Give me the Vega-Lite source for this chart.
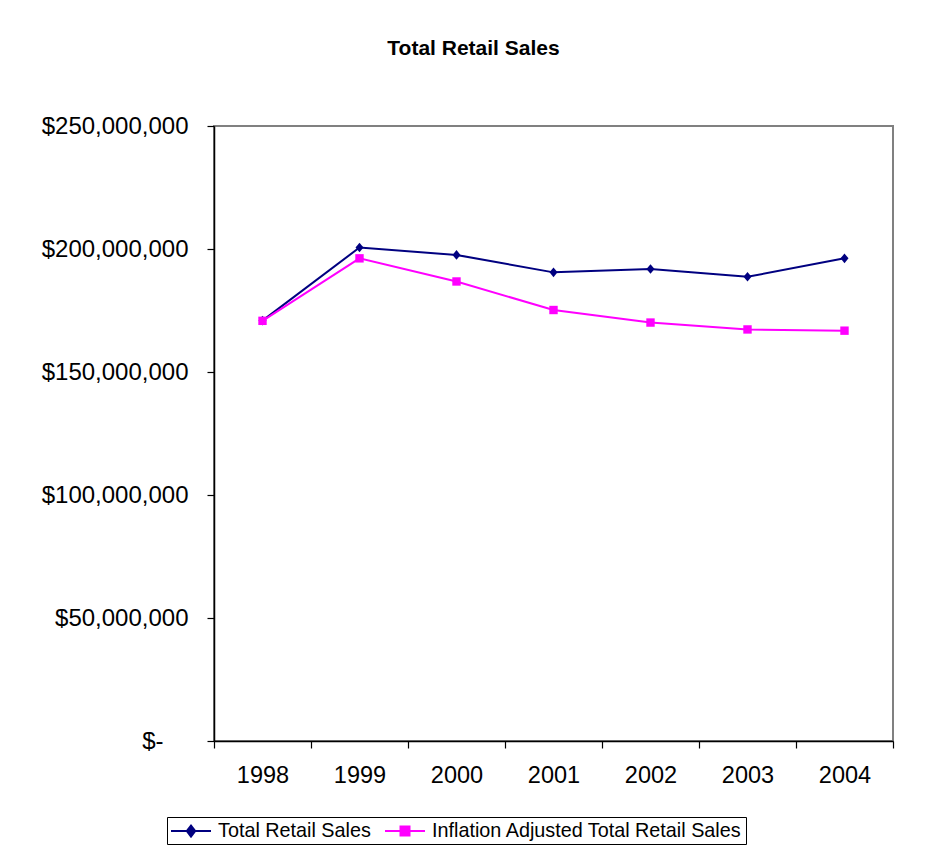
{
  "$schema": "https://vega.github.io/schema/vega-lite/v6.json",
  "autosize": {"type": "none"},
  "padding": {"left": 214, "top": 126, "right": 41, "bottom": 109},
  "width": 679,
  "height": 615,
  "background": "white",
  "title": {
    "text": "Total Retail Sales",
    "font": "Liberation Sans",
    "fontSize": 21,
    "fontWeight": "bold",
    "color": "black",
    "anchor": "middle",
    "dx": -80,
    "offset": 55
  },
  "data": {
    "values": [
      {"year": "1998", "series": "Total Retail Sales", "value": 170900000},
      {"year": "1999", "series": "Total Retail Sales", "value": 200600000},
      {"year": "2000", "series": "Total Retail Sales", "value": 197600000},
      {"year": "2001", "series": "Total Retail Sales", "value": 190500000},
      {"year": "2002", "series": "Total Retail Sales", "value": 191900000},
      {"year": "2003", "series": "Total Retail Sales", "value": 188700000},
      {"year": "2004", "series": "Total Retail Sales", "value": 196200000},
      {"year": "1998", "series": "Inflation Adjusted Total Retail Sales", "value": 170800000},
      {"year": "1999", "series": "Inflation Adjusted Total Retail Sales", "value": 196200000},
      {"year": "2000", "series": "Inflation Adjusted Total Retail Sales", "value": 186800000},
      {"year": "2001", "series": "Inflation Adjusted Total Retail Sales", "value": 175200000},
      {"year": "2002", "series": "Inflation Adjusted Total Retail Sales", "value": 170100000},
      {"year": "2003", "series": "Inflation Adjusted Total Retail Sales", "value": 167300000},
      {"year": "2004", "series": "Inflation Adjusted Total Retail Sales", "value": 166800000}
    ]
  },
  "encoding": {
    "x": {
      "field": "year",
      "type": "ordinal",
      "scale": {"type": "band", "paddingInner": 0, "paddingOuter": 0},
      "axis": {
        "title": null,
        "labelAngle": 0,
        "tickBand": "extent",
        "labelFont": "Liberation Sans",
        "labelFontSize": 23.5,
        "labelColor": "black",
        "labelPadding": 15,
        "tickSize": 7,
        "tickColor": "black",
        "domainColor": "black",
        "domainWidth": 1.5,
        "tickWidth": 1.2,
        "grid": false
      }
    },
    "y": {
      "field": "value",
      "type": "quantitative",
      "scale": {"domain": [0, 250000000], "nice": false, "zero": true},
      "axis": {
        "title": null,
        "values": [0, 50000000, 100000000, 150000000, 200000000, 250000000],
        "labelExpr": "datum.value == 0 ? '$-' : '$' + format(datum.value, ',')",
        "labelFont": "Liberation Sans",
        "labelFontSize": 24,
        "labelColor": "black",
        "labelPadding": {"condition": {"test": "datum.value == 0", "value": 44}, "value": 19},
        "tickSize": 7,
        "tickColor": "black",
        "domainColor": "black",
        "domainWidth": 1.5,
        "tickWidth": 1.2,
        "grid": false
      }
    },
    "color": {
      "field": "series",
      "type": "nominal",
      "scale": {
        "domain": ["Total Retail Sales", "Inflation Adjusted Total Retail Sales"],
        "range": ["#000080", "#FF00FF"]
      },
      "legend": {
        "title": null,
        "orient": "none",
        "legendX": -47,
        "legendY": 691,
        "direction": "horizontal",
        "strokeColor": "black",
        "padding": 3,
        "symbolSize": 400,
        "symbolOffset": 10,
        "labelOffset": 16,
        "columnPadding": 10,
        "labelFont": "Liberation Sans",
        "labelFontSize": 19.8,
        "labelLimit": 500,
        "labelColor": "black",
        "fillColor": "white",
        "symbolStrokeWidth": 2,
        "symbolOpacity": 1,
        "encode": {
          "symbols": {
            "update": {
              "shape": {"signal": "datum.value === 'Total Retail Sales' ? 'M-2,0H2M0,-0.55L0.42,0L0,0.55L-0.42,0Z' : 'M-2,0H2M-0.45,-0.45H0.45V0.45H-0.45Z'"},
              "fill": {"signal": "datum.value === 'Total Retail Sales' ? '#000080' : '#FF00FF'"},
              "stroke": {"signal": "datum.value === 'Total Retail Sales' ? '#000080' : '#FF00FF'"},
              "strokeWidth": {"signal": "2"}
            }
          }
        }
      }
    }
  },
  "layer": [
    {
      "mark": {"type": "line", "strokeWidth": 2}
    },
    {
      "transform": [{"filter": "datum.series === 'Total Retail Sales'"}],
      "mark": {"type": "point", "filled": true, "opacity": 1, "size": 64, "strokeWidth": 0, "shape": "M0,-1.2L1,0L0,1.2L-1,0Z"}
    },
    {
      "transform": [{"filter": "datum.series === 'Inflation Adjusted Total Retail Sales'"}],
      "mark": {"type": "point", "filled": true, "opacity": 1, "size": 64, "strokeWidth": 0, "shape": "M-1.05,-1.05H1.05V1.05H-1.05Z"}
    }
  ],
  "config": {
    "view": {"stroke": "#808080", "strokeWidth": 2}
  }
}
